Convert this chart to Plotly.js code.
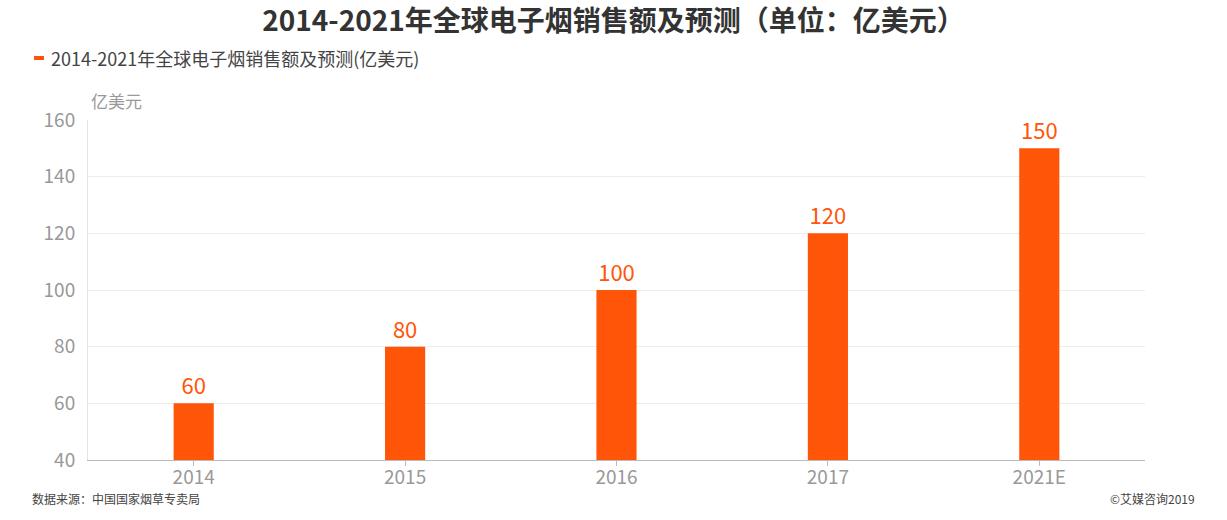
<!DOCTYPE html>
<html><head><meta charset="utf-8">
<script src="https://cdn.plot.ly/plotly-3.0.1.min.js"></script>
<style>html,body{margin:0;padding:0;background:#fff}#chart{width:1227px;height:520px}</style>
</head><body><div id="chart"></div>
<script>
const categories = ["2014", "2015", "2016", "2017", "2021E"];
const sales = [60, 80, 100, 120, 150];
const seriesName = "2014-2021年全球电子烟销售额及预测(亿美元)";
const titleText = "2014-2021年全球电子烟销售额及预测（单位：亿美元）";
const yTicks = [40, 60, 80, 100, 120, 140, 160];

const font = '"Noto Sans CJK SC", "Noto Sans", sans-serif';
const orange = '#FF5508';
const W = 1227, H = 520, L = 88, R = 82, T = 120, B = 60;
const pw = W - L - R, ph = H - T - B;
const px = x => (x - L) / pw;
const py = y => (H - B - y) / ph;

const trace = {
  type: 'bar', x: categories, y: sales, name: seriesName,
  marker: {color: orange},
  width: 0.19,
  text: sales.map(String), textposition: 'outside', constraintext: 'none',
  textfont: {color: orange, size: 22, family: font},
  cliponaxis: false,
  hoverinfo: 'x+y'
};

const layout = {
  width: W, height: H,
  margin: {l: L, r: R, t: T, b: B},
  paper_bgcolor: '#fff', plot_bgcolor: '#fff',
  font: {family: font, color: '#999'},
  title: {text: '<b>' + titleText + '</b>', font: {size: 28, color: '#333', family: font},
    x: 0.5, xanchor: 'center', y: 1 - 21/H, yanchor: 'middle', yref: 'container'},
  showlegend: false,
  bargap: 0.81,
  xaxis: {type: 'category', tickfont: {size: 19, color: '#999'}, showline: true, linecolor: '#bbb', linewidth: 1,
    ticks: 'outside', ticklen: 5, tickcolor: '#bbb', ticklabelstandoff: -5, showgrid: false, fixedrange: true},
  yaxis: {range: [40, 160], tickvals: yTicks, tickfont: {size: 19, color: '#999'}, showline: true, linecolor: '#e6e6e6',
    gridcolor: '#ececec', zeroline: false, ticks: '', ticklabelstandoff: 8, fixedrange: true},
  shapes: [
    {type: 'rect', xref: 'paper', yref: 'paper', x0: px(34), x1: px(44), y0: py(60), y1: py(56),
      fillcolor: orange, line: {width: 0}}
  ],
  annotations: [
    {text: seriesName, xref: 'paper', yref: 'paper', x: px(49), y: py(58), xanchor: 'left', yanchor: 'middle',
      showarrow: false, font: {size: 18, color: '#444', family: font}},
    {text: '亿美元', xref: 'paper', yref: 'paper', x: px(89), y: py(100), xanchor: 'left', yanchor: 'middle',
      showarrow: false, font: {size: 17, color: '#999', family: font}},
    {text: '数据来源：中国国家烟草专卖局', xref: 'paper', yref: 'paper', x: px(30), y: py(498),
      xanchor: 'left', yanchor: 'middle', showarrow: false, font: {size: 12, color: '#444', family: font}},
    {text: '©艾媒咨询2019', xref: 'paper', yref: 'paper', x: px(1197), y: py(498),
      xanchor: 'right', yanchor: 'middle', showarrow: false, font: {size: 12, color: '#444', family: font}}
  ]
};

Plotly.newPlot('chart', [trace], layout, {displayModeBar: false});
</script></body></html>
